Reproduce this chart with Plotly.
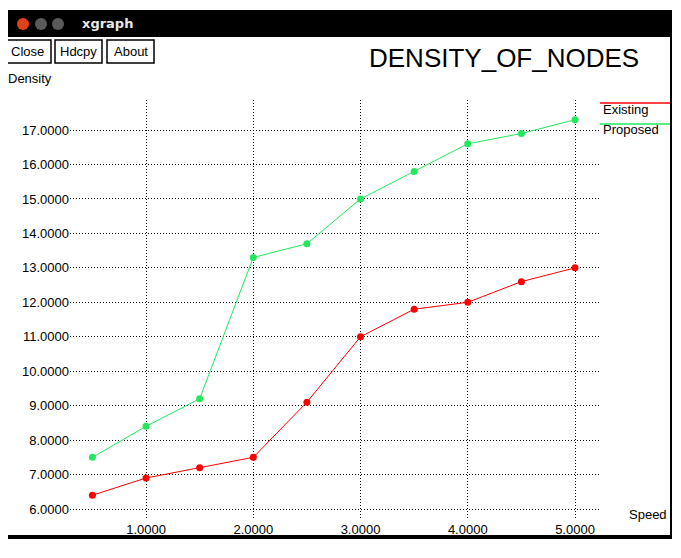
import plotly.graph_objects as go

# ---- data ----
speed = [0.5, 1.0, 1.5, 2.0, 2.5, 3.0, 3.5, 4.0, 4.5, 5.0]
existing = [6.4, 6.9, 7.2, 7.5, 9.1, 11.0, 11.8, 12.0, 12.6, 13.0]
proposed = [7.5, 8.4, 9.2, 13.3, 13.7, 15.0, 15.8, 16.6, 16.9, 17.3]
x_ticks = [1, 2, 3, 4, 5]
y_ticks = list(range(6, 18))
series_names = ["Existing", "Proposed"]
series_colors = ["#ff0000", "#22e85e"]

OFF = 8  # page body margin offset
W, H = 681 - OFF, 558 - OFF
L, R, T, B = 70, 600, 100, 520  # in reference pixel coords
FONT = "Liberation Sans, Arial, sans-serif"


def px(x):
    return (x - L) / (R - L)


def py(y):
    return (B - y) / (B - T)


fig = go.Figure()
for name, vals, col in zip(series_names, [existing, proposed], series_colors):
    fig.add_trace(go.Scatter(
        x=speed, y=vals, name=name, mode="lines+markers",
        line=dict(color=col, width=1),
        marker=dict(color=col, size=7, symbol="circle"),
        showlegend=False,
    ))

shapes = []
annotations = []

# window frame
shapes.append(dict(type="rect", xref="paper", yref="paper",
                   x0=px(4), x1=px(672), y0=py(10), y1=py(37),
                   fillcolor="black", line=dict(width=0), layer="above"))
shapes.append(dict(type="line", xref="paper", yref="paper",
                   x0=px(4.5), x1=px(4.5), y0=py(37), y1=py(537),
                   line=dict(color="black", width=2), layer="above"))
shapes.append(dict(type="line", xref="paper", yref="paper",
                   x0=px(671), x1=px(671), y0=py(37), y1=py(537),
                   line=dict(color="black", width=2), layer="above"))
shapes.append(dict(type="rect", xref="paper", yref="paper",
                   x0=px(4), x1=px(672), y0=py(535), y1=py(539),
                   fillcolor="black", line=dict(width=0), layer="above"))
# title bar buttons
for cx, col in [(23, "#e0401a"), (41, "#5a5a5a"), (58, "#5a5a5a")]:
    shapes.append(dict(type="circle", xref="paper", yref="paper",
                       x0=px(cx - 6), x1=px(cx + 6), y0=py(18), y1=py(30),
                       fillcolor=col, line=dict(width=0), layer="above"))
annotations.append(dict(text="<b>xgraph</b>", x=px(80), y=py(24), xref="paper", yref="paper",
                        xanchor="left", yanchor="middle", showarrow=False,
                        font=dict(family="DejaVu Sans, sans-serif", size=13, color="#e8e8e8")))

# toolbar buttons
for label, x0, x1 in [("Close", 4, 51), ("Hdcpy", 55, 102), ("About", 107, 154)]:
    shapes.append(dict(type="rect", xref="paper", yref="paper",
                       x0=px(x0), x1=px(x1), y0=py(40), y1=py(63),
                       fillcolor="white", line=dict(color="black", width=1.5), layer="above"))
    annotations.append(dict(text=label, x=px((x0 + x1) / 2), y=py(51.5), xref="paper", yref="paper",
                            xanchor="center", yanchor="middle", showarrow=False,
                            font=dict(family=FONT, size=13, color="black")))

# chart title
annotations.append(dict(text="DENSITY_OF_NODES", x=px(504), y=py(58), xref="paper", yref="paper",
                        xanchor="center", yanchor="middle", showarrow=False,
                        font=dict(family=FONT, size=26, color="black")))
# axis titles
annotations.append(dict(text="Density", x=px(6), y=py(79), xref="paper", yref="paper",
                        xanchor="left", yanchor="middle", showarrow=False,
                        font=dict(family=FONT, size=13, color="black")))
annotations.append(dict(text="Speed", x=px(627), y=py(514), xref="paper", yref="paper",
                        xanchor="left", yanchor="middle", showarrow=False,
                        font=dict(family=FONT, size=13, color="black")))

# legend (xgraph style: line above label)
for i, (name, col) in enumerate(zip(series_names, series_colors)):
    ly = 103 + 21 * i
    shapes.append(dict(type="line", xref="paper", yref="paper",
                       x0=px(600), x1=px(670), y0=py(ly), y1=py(ly),
                       line=dict(color=col, width=1.5), layer="above"))
    annotations.append(dict(text=name, x=px(601), y=py(ly + 6), xref="paper", yref="paper",
                            xanchor="left", yanchor="middle", showarrow=False,
                            font=dict(family=FONT, size=13, color="black")))

axis_common = dict(
    showgrid=True, gridcolor="black", gridwidth=1, griddash="1px,2px",
    zeroline=False, showline=False, ticks="",
    tickfont=dict(family=FONT, size=13, color="black"),
    tickformat=".4f",
)

fig.update_layout(
    width=W, height=H,
    margin=dict(l=L - OFF, r=(W + OFF) - R, t=T - OFF, b=(H + OFF) - B, pad=0),
    paper_bgcolor="white", plot_bgcolor="white",
    xaxis=dict(range=[0.291, 5.233], tickmode="array", tickvals=x_ticks, **axis_common),
    yaxis=dict(range=[5.681, 17.872], tickmode="array", tickvals=y_ticks, **axis_common),
    shapes=shapes, annotations=annotations,
)

fig.write_html("out.html")
